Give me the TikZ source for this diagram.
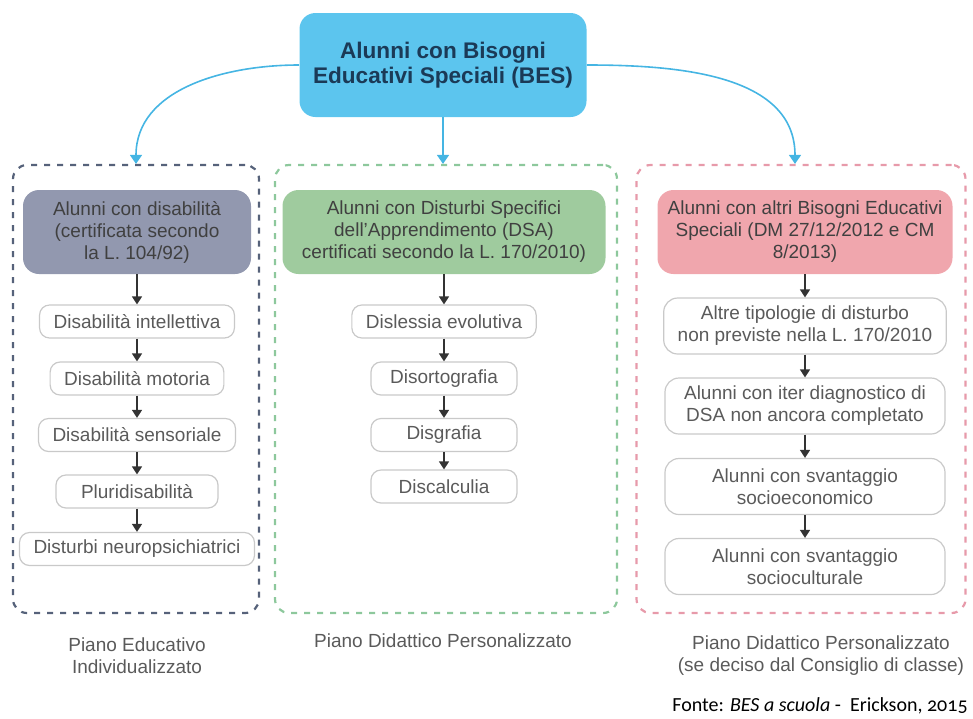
\documentclass[tikz,border=0pt]{standalone}
\usepackage{fontspec}
\setmainfont{Liberation Sans}
\newfontfamily\fontefont[Numbers=OldStyle]{Carlito}
\usetikzlibrary{arrows.meta,positioning}
\definecolor{azzurro}{HTML}{5CC5EE}
\definecolor{blunotte}{HTML}{1B3A57}
\definecolor{celeste}{HTML}{45B5E3}
\definecolor{ardesia}{HTML}{56627A}
\definecolor{verdino}{HTML}{8DC89C}
\definecolor{rosato}{HTML}{E79AAA}
\definecolor{lilla}{HTML}{9298AF}
\definecolor{salvia}{HTML}{9FCB9E}
\definecolor{rosa}{HTML}{F0A6AD}
\definecolor{grigio}{HTML}{5A5A5A}
\definecolor{grigioscuro}{HTML}{404040}
\definecolor{bordo}{HTML}{C9C9C9}
\begin{document}
\begin{tikzpicture}[x=0.5pt,y=-0.5pt,>={Triangle[width=5pt,length=4pt]},font=\fontsize{9.5}{11}\selectfont,
	titolo/.style={fill=azzurro,text=blunotte,rounded corners=8pt,align=center,minimum width=143.5pt,minimum height=52pt,font=\fontsize{11.3}{12.5}\selectfont\bfseries},
	cornice/.style={draw,line width=1.1pt,dash pattern=on 3pt off 3.5pt,rounded corners=7pt,minimum height=224pt},
	testa/.style={rounded corners=8pt,text=grigioscuro,align=center,minimum height=42pt,inner sep=1pt},
	voce/.style={draw=bordo,line width=0.6pt,rounded corners=5pt,text=grigio,align=center,minimum height=16.5pt,inner xsep=7pt,inner ysep=1pt},
	voce2/.style={voce,rounded corners=7pt,minimum width=140pt,minimum height=28pt},
	freccia/.style={->,line width=0.7pt,draw=black!80},
	ramo/.style={-{Triangle[width=6pt,length=4.5pt]},line width=0.8pt,draw=celeste},
	nota/.style={text=grigio,align=center}]
	\useasboundingbox (0,0) rectangle (973,718);
	\node[titolo] (bes) at (443,65) {Alunni con Bisogni\\Educativi Speciali (BES)};
	\node[cornice,draw=ardesia,minimum width=123pt] (cL) at (136,389) {};
	\node[cornice,draw=verdino,minimum width=171pt] (cM) at (446,389) {};
	\node[cornice,draw=rosato,minimum width=164.5pt] (cR) at (801,389) {};
	\draw[ramo] (bes.west) to[out=180,in=90] (cL.north);
	\draw[ramo] (bes.south) -- (bes.south |- cM.north);
	\draw[ramo] (bes.east) to[out=0,in=90] (795,0 |- cR.north);
	\node[testa,fill=lilla,minimum width=114pt] (hL) at (137,232) {Alunni con disabilità\\(certificata secondo\\la L. 104/92)};
	\node[testa,fill=salvia,minimum width=161.5pt] (hM) at (444,232) {Alunni con Disturbi Specifici\\dell’Apprendimento (DSA)\\certificati secondo la L. 170/2010)};
	\node[testa,fill=rosa,minimum width=147.5pt] (hR) at (805,232) {Alunni con altri Bisogni Educativi\\Speciali (DM 27/12/2012 e CM\\8/2013)};
	\node[voce] (l1) at (137,321.5) {Disabilità intellettiva};
	\node[voce] (l2) at (137,378.5) {Disabilità motoria};
	\node[voce] (l3) at (137,435) {Disabilità sensoriale};
	\node[voce,minimum width=81pt] (l4) at (137,491.5) {Pluridisabilità};
	\node[voce] (l5) at (137,549) {Disturbi neuropsichiatrici};
	\node[voce] (m1) at (444,321.5) {Dislessia evolutiva};
	\node[voce,minimum width=73pt] (m2) at (444,378.5) {Disortografia};
	\node[voce,minimum width=73pt] (m3) at (444,435) {Disgrafia};
	\node[voce,minimum width=73pt] (m4) at (444,486.5) {Discalculia};
	\node[voce2] (r1) at (805,326) {Altre tipologie di disturbo\\non previste nella L. 170/2010};
	\node[voce2] (r2) at (805,406) {Alunni con iter diagnostico di\\DSA non ancora completato};
	\node[voce2] (r3) at (805,486.5) {Alunni con svantaggio\\socioeconomico};
	\node[voce2] (r4) at (805,566.5) {Alunni con svantaggio\\socioculturale};
	\foreach \a/\b in {hL/l1,l1/l2,l2/l3,l3/l4,l4/l5,hM/m1,m1/m2,m2/m3,m3/m4,hR/r1,r1/r2,r2/r3,r3/r4}
		\draw[freccia] (\a.south) -- (\a.south |- \b.north);
	\node[nota] (pL) at (137,656) {Piano Educativo\\Individualizzato};
	\node[nota] (pM) at (443,641) {Piano Didattico Personalizzato};
	\node[nota] (pR) at (821,656) {Piano Didattico Personalizzato\\(se deciso dal Consiglio di classe)};
	\node[anchor=west,inner sep=0pt,font=\fontefont\fontsize{10}{12}\selectfont] (fonte) at (672,706) {Fonte: \textit{BES a scuola} -\ \ Erickson, 2015};
\end{tikzpicture}
\end{document}
